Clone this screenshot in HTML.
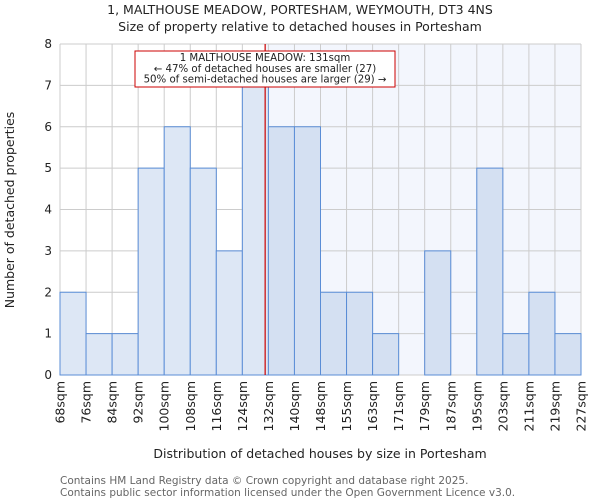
<!DOCTYPE html>
<html><head><meta charset="utf-8"><style>
body{margin:0;background:#fff;font-family:"DejaVu Sans","Liberation Sans",sans-serif;}
</style></head><body>
<svg id="chart" width="600" height="500" xmlns="http://www.w3.org/2000/svg" font-family="DejaVu Sans, Liberation Sans, sans-serif">
<text x="300" y="14" text-anchor="middle" font-size="12.5" fill="#222">1, MALTHOUSE MEADOW, PORTESHAM, WEYMOUTH, DT3 4NS</text>
<text x="300" y="31" text-anchor="middle" font-size="12.5" fill="#222">Size of property relative to detached houses in Portesham</text>
<g id="plot"></g>
<text x="320" y="458" text-anchor="middle" font-size="12.5" fill="#222">Distribution of detached houses by size in Portesham</text>
<text transform="translate(14,210) rotate(-90)" text-anchor="middle" font-size="12.5" fill="#222">Number of detached properties</text>
<text x="60" y="484" font-size="10.5" fill="#666">Contains HM Land Registry data © Crown copyright and database right 2025.</text>
<text x="60" y="496" font-size="10.5" fill="#666">Contains public sector information licensed under the Open Government Licence v3.0.</text>
</svg>
<script>
const categories=["68sqm","76sqm","84sqm","92sqm","100sqm","108sqm","116sqm","124sqm","132sqm","140sqm","148sqm","155sqm","163sqm","171sqm","179sqm","187sqm","195sqm","203sqm","211sqm","219sqm","227sqm"];
const counts=[2,1,1,5,6,5,3,7,6,6,2,2,1,0,3,0,5,1,2,1];
const yTicks=[0,1,2,3,4,5,6,7,8];
const markerValue=131;
const binStarts=[68,76,84,92,100,108,116,124,132,140,148,155,163,171,179,187,195,203,211,219,227];
const NS="http://www.w3.org/2000/svg";
const L=60,R=581,T=44,B=375,yMax=8;
const n=counts.length,bw=(R-L)/n;
const xs=i=>L+i*bw;
const ys=v=>B-(v/yMax)*(B-T);
function xVal(v){for(let i=0;i<binStarts.length-1;i++){if(v>=binStarts[i]&&v<binStarts[i+1])return xs(i)+(v-binStarts[i])/(binStarts[i+1]-binStarts[i])*bw;}return R;}
const g=document.getElementById('plot');
function mk(t,a){const e=document.createElementNS(NS,t);for(const k in a)e.setAttribute(k,a[k]);g.appendChild(e);return e;}
const mx=xVal(markerValue);
let e=mk('rect',{x:mx,y:T,width:R-mx,height:B-T,fill:'#f3f6fd'});


yTicks.forEach(v=>{const l=mk('line',{x1:L,x2:R,y1:ys(v),y2:ys(v),stroke:'#cccccc','stroke-width':1});


const t=mk('text',{x:L-8,y:ys(v)+4,'text-anchor':'end','font-size':12,fill:'#222'});t.textContent=v;

});
for(let i=0;i<=n;i++){const l=mk('line',{x1:xs(i),x2:xs(i),y1:T,y2:B,stroke:'#cccccc','stroke-width':1});

}
counts.forEach((c,i)=>{if(c<=0)return;const right=xs(i)>=mx-1;
const r=mk('rect',{x:xs(i),y:ys(c),width:bw,height:B-ys(c),fill:right?'#d4e0f2':'#dde7f5',stroke:'#5a8dd6','stroke-width':1});

});
categories.forEach((c,i)=>{const x=xs(i)+4.5,y=381;
const t=mk('text',{x:0,y:0,transform:`translate(${x},${y}) rotate(-90)`,'text-anchor':'end','font-size':12.5,fill:'#222'});t.textContent=c;

});
e=mk('line',{x1:mx,x2:mx,y1:T,y2:B,stroke:'#cc0000','stroke-width':1.2});


e=mk('rect',{x:135,y:51,width:260,height:36,fill:'#fff',stroke:'#cc0000','stroke-width':1});


["1 MALTHOUSE MEADOW: 131sqm","← 47% of detached houses are smaller (27)","50% of semi-detached houses are larger (29) →"].forEach((s,k)=>{
const t=mk('text',{x:265,y:61+k*10.8,'text-anchor':'middle','font-size':10.2,fill:'#222'});t.textContent=s;

});
</script>
</body></html>
